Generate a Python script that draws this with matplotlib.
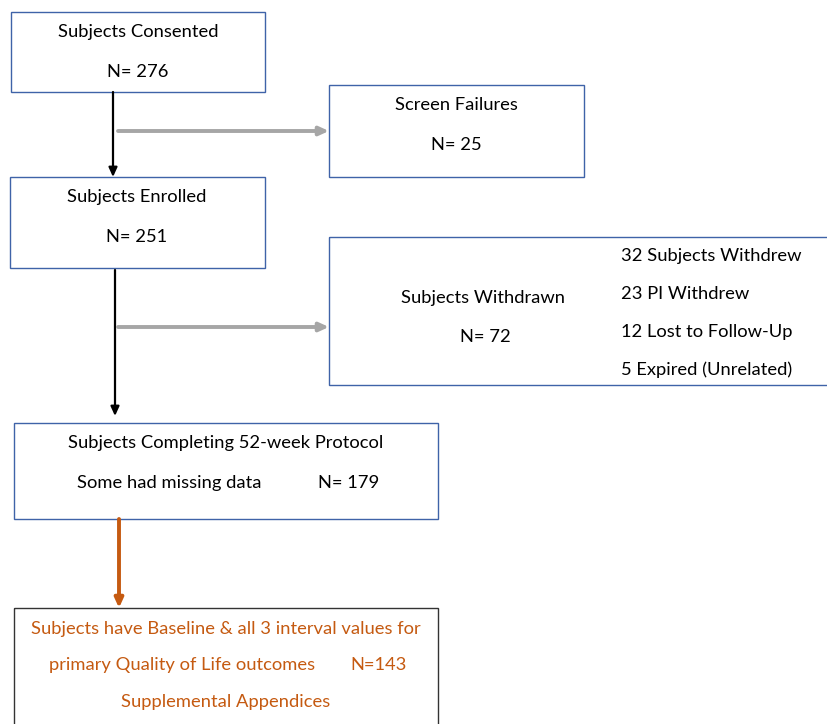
import matplotlib.pyplot as plt
from matplotlib.patches import Rectangle

plt.rcParams['font.family'] = ['Lato', 'DejaVu Sans']

# flow counts
n_consented = 276
n_screen_fail = 25
n_enrolled = 251
n_withdrawn = 72
n_completed = 179
n_final = 143
withdraw_reasons = ["32 Subjects Withdrew", "23 PI Withdrew",
                    "12 Lost to Follow-Up", "5 Expired (Unrelated)"]

blue = '#3F63A8'
grey = '#A6A6A6'
orange = '#C55A11'
fs = 13.2

fig = plt.figure(figsize=(8.28, 7.24), dpi=100)
ax = fig.add_axes([0, 0, 1, 1])
ax.set_xlim(0, 828)
ax.set_ylim(724, 0)
ax.axis('off')


def box(x0, y0, x1, y1, ec=blue):
    ax.add_patch(Rectangle((x0, y0), x1 - x0, y1 - y0, fill=False, ec=ec, lw=1.0))


def arrow(x0, y0, x1, y1, c, lw):
    ax.annotate('', xy=(x1, y1), xytext=(x0, y0),
                arrowprops=dict(arrowstyle='-|>,head_length=0.55,head_width=0.25',
                                color=c, lw=lw, shrinkA=0, shrinkB=0))


def txt(x, y, s, ha='center', c='black'):
    ax.text(x, y + 1, s, ha=ha, va='center', fontsize=fs, color=c)


# boxes
box(11, 12, 265, 92)
box(329, 85, 584, 177)
box(10, 177, 265, 268)
box(329, 237, 840, 385)
box(14, 423, 438, 519)
box(14, 608, 438, 740, ec='#333333')

# arrows
arrow(113, 92, 113, 177, 'black', 1.6)
arrow(118, 131, 329, 131, grey, 2.8)
arrow(115, 270, 115, 416, 'black', 1.6)
arrow(118, 327, 329, 327, grey, 2.8)
arrow(119, 519, 119, 608, orange, 2.8)

# texts
txt(138, 31, "Subjects Consented")
txt(138, 71, f"N= {n_consented}")
txt(456, 104, "Screen Failures")
txt(456, 144, f"N= {n_screen_fail}")
txt(137, 196, "Subjects Enrolled")
txt(137, 236, f"N= {n_enrolled}")
txt(483, 297, "Subjects Withdrawn")
txt(485, 336, f"N= {n_withdrawn}")
for i, r in enumerate(withdraw_reasons):
    txt(621, 255 + i * 38, r, ha='left')
txt(226, 442, "Subjects Completing 52-week Protocol")
txt(77, 482, "Some had missing data", ha='left')
txt(318, 482, f"N= {n_completed}", ha='left')
txt(226, 628, "Subjects have Baseline & all 3 interval values for", c=orange)
txt(49, 664, "primary Quality of Life outcomes", ha='left', c=orange)
txt(350, 664, f"N={n_final}", ha='left', c=orange)
txt(226, 701, "Supplemental Appendices", c=orange)

fig.savefig('out.png', dpi=100)
